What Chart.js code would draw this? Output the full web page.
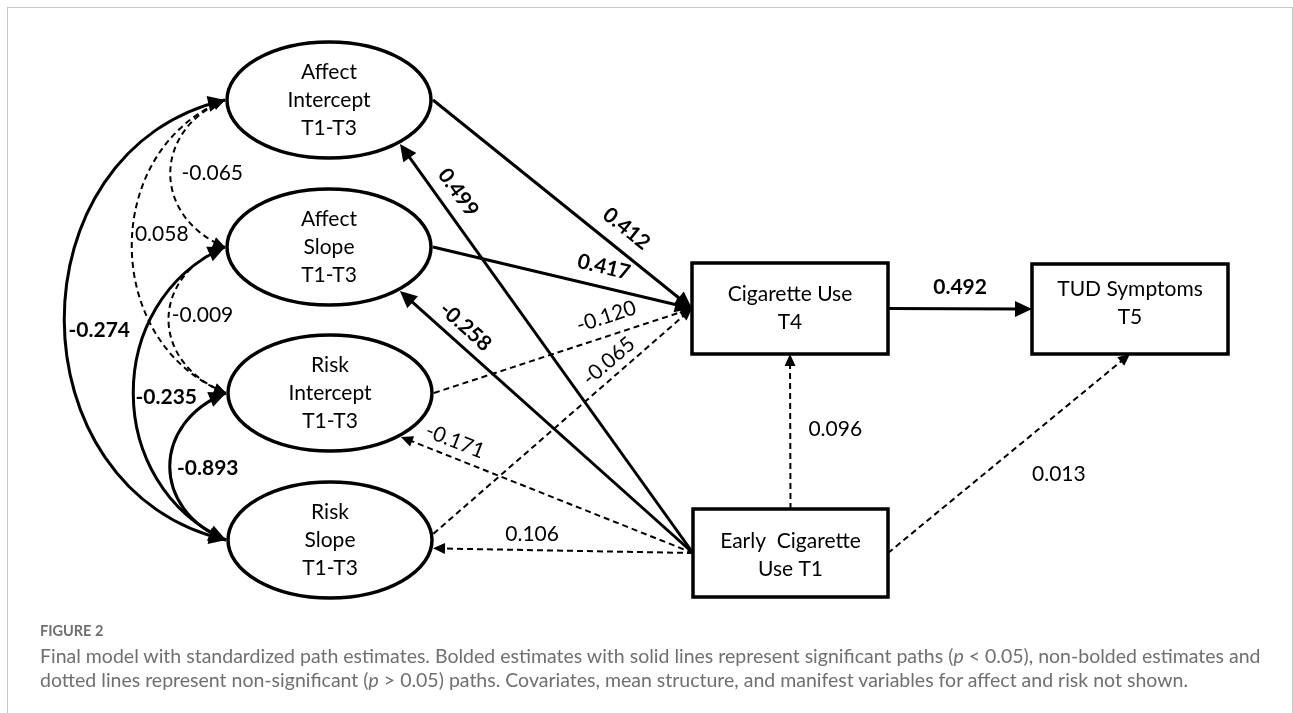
<!DOCTYPE html>
<html>
<head>
<meta charset="utf-8">
<script src="https://cdn.jsdelivr.net/npm/chart.js@4.4.1/dist/chart.umd.min.js"></script>
<style>
  html, body { margin: 0; padding: 0; background: #fff; }
  body { width: 1293px; height: 713px; position: relative; overflow: hidden; }
  #frame { position: absolute; left: 7px; top: 7px; width: 1286px; height: 720px; border: 1px solid #c6c6c6; border-bottom: none; box-sizing: border-box; }
  #diagram { position: absolute; left: 0; top: 0; }
  .caption { position: absolute; left: 40px; font-family: Lato, "Open Sans", sans-serif; color: #6f6f6f; white-space: nowrap; }
  #figno { top: 622px; font-size: 14.5px; line-height: 18px; font-weight: bold; }
  #captext { top: 644px; font-size: 19.5px; line-height: 24px; }
</style>
</head>
<body>
<div id="frame"></div>
<canvas id="diagram" width="1293" height="713"></canvas>
<div class="caption" id="figno">FIGURE 2</div>
<div class="caption" id="captext">Final model with standardized path estimates. Bolded estimates with solid lines represent significant paths (<i>p</i> &lt; 0.05), non-bolded estimates and<br>dotted lines represent non-significant (<i>p</i> &gt; 0.05) paths. Covariates, mean structure, and manifest variables for affect and risk not shown.</div>
<script>
// ข้อมูลของแบบจำลอง (ตัวแปรและค่าประมาณเส้นทาง)
const nodeLabels = [
  ["Affect", "Intercept", "T1-T3"],
  ["Affect", "Slope", "T1-T3"],
  ["Risk", "Intercept", "T1-T3"],
  ["Risk", "Slope", "T1-T3"],
  ["Cigarette Use", "T4"],
  ["TUD Symptoms", "T5"],
  ["Early  Cigarette", "Use T1"],
];

// เส้นทางแบบมีทิศทาง
const pathFrom = [0, 1, 2, 3, 6, 6, 6, 6, 6, 4, 6];
const pathTo = [4, 4, 4, 4, 0, 1, 2, 3, 4, 5, 5];
const pathEstimates = [0.412, 0.417, -0.12, -0.065, 0.499, -0.258, -0.171, 0.106, 0.096, 0.492, 0.013];
const pathSignificant = [true, true, false, false, true, true, false, false, false, true, false];

// ความแปรปรวนร่วม (ลูกศรสองหัว)
const covFrom = [0, 1, 2, 0, 0, 1];
const covTo = [3, 3, 3, 1, 2, 2];
const covEstimates = [-0.274, -0.235, -0.893, -0.065, 0.058, -0.009];
const covSignificant = [true, true, true, false, false, false];

// ตำแหน่งของกล่อง/วงรีในหน่วยของแผนภาพ
const nodeLayout = [
  { shape: "ellipse", x: 329, y: 100, w: 204, h: 116 },
  { shape: "ellipse", x: 329, y: 247, w: 204, h: 116 },
  { shape: "ellipse", x: 330, y: 393, w: 204, h: 116 },
  { shape: "ellipse", x: 330, y: 540, w: 204, h: 116 },
  { shape: "rect", x: 790, y: 308.5, w: 196, h: 91, dy: 0 },
  { shape: "rect", x: 1130, y: 309, w: 196, h: 90, dy: -6 },
  { shape: "rect", x: 790.5, y: 553, w: 195, h: 88, dy: 2 },
];

// จุดต่อของเส้น (มุมบนวงรี หรือด้านของกล่อง) และตำแหน่งป้ายกำกับ [t, ระยะตั้งฉาก, หมุนตามเส้น]
const pathPorts = [
  [0, "left"], [0, "left"], [0, "left"], [-6, "left"],
  ["left", 47], ["left", 47], ["left", 47], ["left", 8],
  ["top", "bottom"], ["right", "left"], ["right", "bottom"],
];
const pathLabelPos = [
  [0.696, -21, true], [0.642, -20, true], [0.691, -19, true], [0.716, -15, true],
  [0.854, 19, true], [0.815, 17, true], [0.835, 16, true], [0.62, 16, false],
  [0.513, 45, false], [0.5, -22, false], [0.58, 48, false],
];
// รูปโค้งของลูกศรสองหัว: ความโป่ง, ความเอียงที่ปลาย, ตำแหน่งป้ายจากจุดกึ่งกลางโค้ง
const covShape = [
  { bulge: 215, lean: 50, lx: 35, ly: 10 },
  { bulge: 123, lean: 55, lx: 33, ly: 4 },
  { bulge: 75, lean: 30, lx: 38, ly: 2 },
  { bulge: 73, lean: 30, lx: 42, ly: 0 },
  { bulge: 125, lean: 50, lx: 30, ly: -12 },
  { bulge: 76, lean: 30, lx: 34, ly: -5 },
];

const FONT = "Lato, 'Open Sans', sans-serif";
const FONT_SIZE = 21;

function portPoint(i, spec) {
  const n = nodeLayout[i];
  if (n.shape === "ellipse") {
    const a = (spec * Math.PI) / 180;
    return [n.x + (n.w / 2 + 2) * Math.cos(a), n.y + (n.h / 2 + 2) * Math.sin(a)];
  }
  if (spec === "left") return [n.x - n.w / 2, n.y];
  if (spec === "right") return [n.x + n.w / 2, n.y];
  if (spec === "top") return [n.x, n.y - n.h / 2];
  return [n.x, n.y + n.h / 2];
}

const diagramPlugin = {
  id: "pathDiagram",
  afterDatasetsDraw(chart) {
    const ctx = chart.ctx;
    const xs = chart.scales.x;
    const ys = chart.scales.y;
    const P = (p) => [xs.getPixelForValue(p[0]), ys.getPixelForValue(p[1])];
    const sx = Math.abs(xs.getPixelForValue(1) - xs.getPixelForValue(0));
    const sy = Math.abs(ys.getPixelForValue(1) - ys.getPixelForValue(0));

    const heads = [];
    const labels = [];

    function lineStyle(sig) {
      ctx.strokeStyle = "#000";
      ctx.lineWidth = sig ? 3 : 2;
      ctx.setLineDash(sig ? [] : [6, 4]);
    }

    // เส้นทางตรง
    pathFrom.forEach((from, i) => {
      const sig = pathSignificant[i];
      const s = P(portPoint(from, pathPorts[i][0]));
      const e = P(portPoint(pathTo[i], pathPorts[i][1]));
      const dx = e[0] - s[0];
      const dy = e[1] - s[1];
      const len = Math.hypot(dx, dy);
      const ux = dx / len;
      const uy = dy / len;
      const hl = sig ? 17 : 12;
      lineStyle(sig);
      ctx.beginPath();
      ctx.moveTo(s[0], s[1]);
      ctx.lineTo(e[0] - ux * hl * 0.7, e[1] - uy * hl * 0.7);
      ctx.stroke();
      heads.push({ tip: e, ux, uy, sig });

      const [t, off, rot] = pathLabelPos[i];
      let ang = Math.atan2(dy, dx);
      if (ang > Math.PI / 2) ang -= Math.PI;
      if (ang < -Math.PI / 2) ang += Math.PI;
      labels.push({
        x: s[0] + dx * t - uy * off,
        y: s[1] + dy * t + ux * off,
        ang: rot ? ang : 0,
        text: pathEstimates[i].toFixed(3),
        bold: sig,
      });
    });

    // ลูกศรสองหัวแบบโค้ง
    covFrom.forEach((a, i) => {
      const sig = covSignificant[i];
      const cs = covShape[i];
      const na = nodeLayout[a];
      const nb = nodeLayout[covTo[i]];
      const p0 = [na.x - na.w / 2 - 2, na.y];
      const p3 = [nb.x - nb.w / 2 - 2, nb.y];
      const p1 = [p0[0] - cs.bulge, p0[1] + cs.lean];
      const p2 = [p3[0] - cs.bulge, p3[1] - cs.lean];
      const q0 = P(p0), q1 = P(p1), q2 = P(p2), q3 = P(p3);
      lineStyle(sig);
      ctx.beginPath();
      ctx.moveTo(q0[0], q0[1]);
      ctx.bezierCurveTo(q1[0], q1[1], q2[0], q2[1], q3[0], q3[1]);
      ctx.stroke();
      [[q0, q1], [q3, q2]].forEach(([tip, c]) => {
        const dx = tip[0] - c[0];
        const dy = tip[1] - c[1];
        const l = Math.hypot(dx, dy);
        heads.push({ tip, ux: dx / l, uy: dy / l, sig });
      });
      const mid = [
        0.125 * p0[0] + 0.375 * p1[0] + 0.375 * p2[0] + 0.125 * p3[0],
        0.125 * p0[1] + 0.375 * p1[1] + 0.375 * p2[1] + 0.125 * p3[1],
      ];
      const m = P([mid[0] + cs.lx, mid[1] + cs.ly]);
      labels.push({ x: m[0], y: m[1], ang: 0, text: covEstimates[i].toFixed(3), bold: sig });
    });
    ctx.setLineDash([]);

    // วงรีและกล่อง
    nodeLayout.forEach((n, i) => {
      const c = P([n.x, n.y]);
      const w = n.w * sx;
      const h = n.h * sy;
      ctx.lineWidth = 3.5;
      ctx.strokeStyle = "#000";
      ctx.fillStyle = "#fff";
      ctx.beginPath();
      if (n.shape === "ellipse") {
        ctx.ellipse(c[0], c[1], w / 2, h / 2, 0, 0, Math.PI * 2);
      } else {
        ctx.rect(c[0] - w / 2, c[1] - h / 2, w, h);
      }
      ctx.fill();
      ctx.stroke();

      const lines = nodeLabels[i];
      const lh = 28;
      ctx.fillStyle = "#000";
      ctx.font = FONT_SIZE + "px " + FONT;
      ctx.textAlign = "center";
      ctx.textBaseline = "middle";
      const top = c[1] + (n.dy || 0) - ((lines.length - 1) * lh) / 2;
      lines.forEach((txt, k) => ctx.fillText(txt, c[0], top + k * lh));
    });

    // หัวลูกศร
    ctx.fillStyle = "#000";
    heads.forEach((h) => {
      const len = h.sig ? 17 : 12;
      const half = h.sig ? 8 : 5.5;
      const bx = h.tip[0] - h.ux * len;
      const by = h.tip[1] - h.uy * len;
      ctx.beginPath();
      ctx.moveTo(h.tip[0], h.tip[1]);
      ctx.lineTo(bx - h.uy * half, by + h.ux * half);
      ctx.lineTo(bx + h.uy * half, by - h.ux * half);
      ctx.closePath();
      ctx.fill();
    });

    // ค่าประมาณ
    labels.forEach((lb) => {
      ctx.save();
      ctx.translate(lb.x, lb.y);
      ctx.rotate(lb.ang);
      ctx.font = (lb.bold ? "bold " : "") + FONT_SIZE + "px " + FONT;
      ctx.textAlign = "center";
      ctx.textBaseline = "middle";
      ctx.fillStyle = "#000";
      ctx.fillText(lb.text, 0, 0);
      ctx.restore();
    });
  },
};

const chart = new Chart(document.getElementById("diagram").getContext("2d"), {
  type: "scatter",
  data: {
    datasets: [
      {
        data: nodeLayout.map((n) => ({ x: n.x, y: n.y })),
        pointRadius: 0,
      },
    ],
  },
  options: {
    responsive: false,
    animation: false,
    events: [],
    layout: { padding: 0 },
    plugins: {
      legend: { display: false },
      tooltip: { enabled: false },
    },
    scales: {
      x: { type: "linear", min: 0, max: 1293, display: false },
      y: { type: "linear", min: 0, max: 713, reverse: true, display: false },
    },
  },
  plugins: [diagramPlugin],
});
</script>
</body>
</html>
